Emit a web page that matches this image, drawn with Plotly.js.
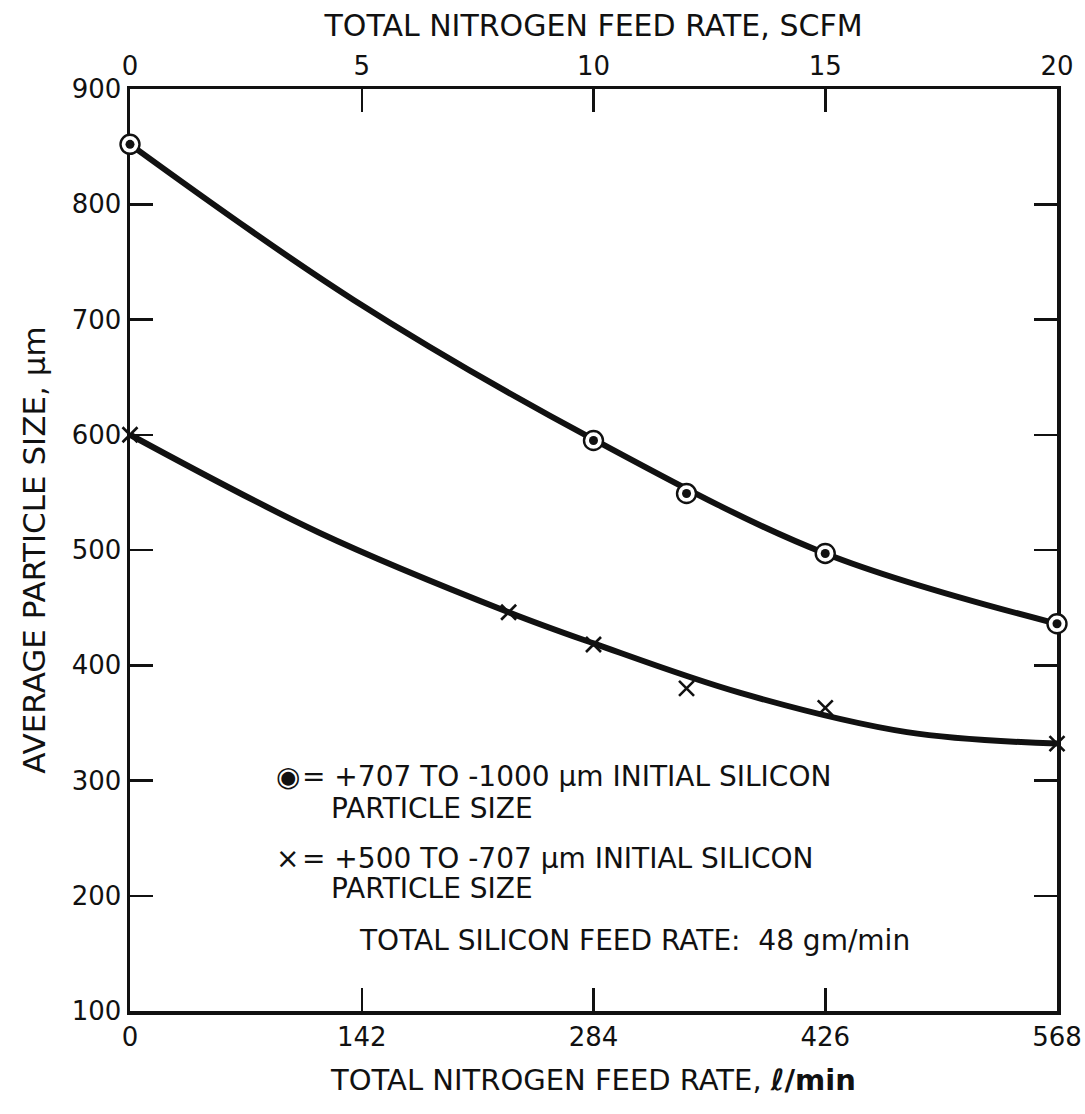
<!DOCTYPE html>
<html><head><meta charset="utf-8">
<script src="https://cdn.plot.ly/plotly-3.0.1.min.js"></script>
<style>body{margin:0;background:#fff}</style>
</head><body>
<div id="chart" style="width:1085px;height:1114px"></div>
<script>
// Measured points (l/min, µm)
const coarseFlowLpm = [0, 284, 341, 426, 568];
const coarseSize = [852, 595, 549, 497, 436];
const fineFlowLpm = [0, 232, 284, 341, 426, 568];
const fineSize = [600, 446, 418, 380, 363, 332];
// Hand-drawn fitted curves
const coarseCurveX = [0, 137, 284, 426, 568];
const coarseCurveY = [852, 717, 596, 497, 436];
const fineCurveX = [0, 116, 232, 284, 374, 476, 568];
const fineCurveY = [600, 515, 446, 419, 376, 342, 332];
// Tick labels
const lpmTicks = [0, 142, 284, 426, 568];
const scfmTicks = [0, 5, 10, 15, 20];
const sizeTicks = [100, 200, 300, 400, 500, 600, 700, 800, 900];

const FONT = 'DejaVu Sans, sans-serif';
const INK = '#111';

const traces = [
  {x: coarseCurveX, y: coarseCurveY, mode: 'lines', line: {color: INK, width: 6, shape: 'spline', smoothing: 1}, hoverinfo: 'skip', showlegend: false},
  {x: fineCurveX, y: fineCurveY, mode: 'lines', line: {color: INK, width: 6, shape: 'spline', smoothing: 1}, hoverinfo: 'skip', showlegend: false},
  {x: coarseFlowLpm, y: coarseSize, mode: 'markers', cliponaxis: false, showlegend: false,
   marker: {symbol: 'circle', size: 19, color: '#fff', line: {color: INK, width: 2.4}}},
  {x: coarseFlowLpm, y: coarseSize, mode: 'markers', cliponaxis: false, showlegend: false,
   marker: {symbol: 'circle', size: 9, color: INK, line: {width: 0}}},
  {x: fineFlowLpm, y: fineSize, mode: 'markers', cliponaxis: false, showlegend: false,
   marker: {symbol: 'x-thin', size: 15, color: INK, line: {color: INK, width: 2.6}}},
  {x: scfmTicks, y: scfmTicks.map(() => null), xaxis: 'x2', mode: 'markers', hoverinfo: 'skip', showlegend: false}
];

function px(x) { return (x - 130) / 927; }
function py(y) { return (1011 - y) / 922; }
const annFont = {family: FONT, size: 28, color: INK};
const annotations = [
  {text: '◉', x: px(288), y: py(776), xanchor: 'center', yanchor: 'middle', font: {family: FONT, size: 28, color: INK}},
  {text: '= +707 TO -1000 µm INITIAL SILICON', x: px(300), y: py(776), xanchor: 'left', yanchor: 'middle', font: annFont},
  {text: 'PARTICLE SIZE', x: px(329), y: py(808), xanchor: 'left', yanchor: 'middle', font: annFont},
  {text: '×', x: px(287), y: py(858), xanchor: 'center', yanchor: 'middle', font: {family: FONT, size: 28, color: INK}},
  {text: '= +500 TO -707 µm INITIAL SILICON', x: px(300), y: py(858), xanchor: 'left', yanchor: 'middle', font: annFont},
  {text: 'PARTICLE SIZE', x: px(329), y: py(888), xanchor: 'left', yanchor: 'middle', font: annFont},
  {text: 'TOTAL SILICON FEED RATE:\u00a0\u00a048 gm/min', x: px(357), y: py(940), xanchor: 'left', yanchor: 'middle', font: annFont}
].map(a => Object.assign({xref: 'paper', yref: 'paper', showarrow: false}, a));

const axisCommon = {
  showline: true, linecolor: INK, linewidth: 3.5, ticks: 'inside', ticklen: 23, tickwidth: 2.5, tickcolor: INK,
  showgrid: false, zeroline: false, layer: 'below traces',
  tickfont: {family: FONT, size: 26, color: INK}
};

const layout = {
  width: 1085, height: 1114,
  margin: {l: 130, r: 28, t: 89, b: 103},
  paper_bgcolor: '#fff', plot_bgcolor: '#fff',
  showlegend: false,
  font: {family: FONT, color: INK},
  xaxis: Object.assign({}, axisCommon, {
    range: [0, 568], tickvals: lpmTicks, ticktext: lpmTicks.map(String), mirror: true,
    title: {text: 'TOTAL NITROGEN FEED RATE, <b>ℓ/min</b>', font: {family: FONT, size: 29, color: INK}, standoff: 20}
  }),
  xaxis2: Object.assign({}, axisCommon, {
    overlaying: 'x', side: 'top', range: [0, 20], tickvals: scfmTicks, ticktext: scfmTicks.map(String),
    title: {text: 'TOTAL NITROGEN FEED RATE, SCFM', font: {family: FONT, size: 30, color: INK}, standoff: 6}
  }),
  yaxis: Object.assign({}, axisCommon, {
    range: [100, 900], tickvals: sizeTicks, ticktext: sizeTicks.map(String), mirror: 'ticks',
    title: {text: 'AVERAGE PARTICLE SIZE, µm', font: {family: FONT, size: 31, color: INK}, standoff: 18}
  }),
  annotations: annotations
};

Plotly.newPlot('chart', traces, layout, {displayModeBar: false, staticPlot: true});
</script>
</body></html>
